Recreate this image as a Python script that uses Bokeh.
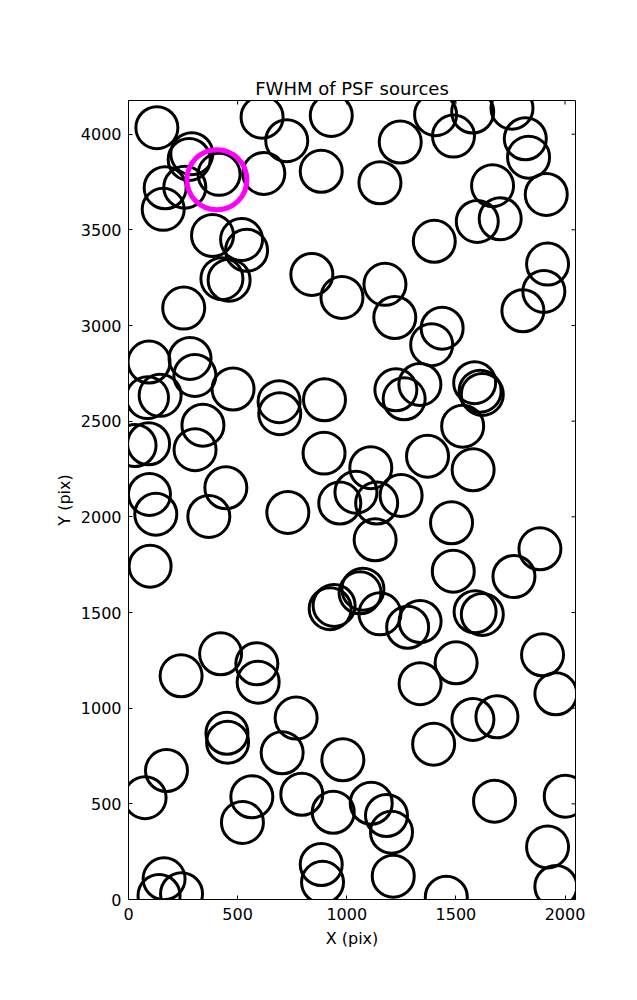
import math
from bokeh.plotting import figure
from bokeh.models import FixedTicker, Range1d
from bokeh.embed import file_html
from bokeh.resources import INLINE

# Source centres (pixel coordinates on the detector)
src_x = [130, 290, 278, 168, 258, 159, 415, 620, 612, 725, 929, 883, 385, 518, 541, 428, 461, 253, 840, 978,
         1407, 1577, 1757, 1489, 1245, 1152, 1818, 1833, 1914, 1668, 1598, 1703, 1401, 1920, 1903, 1807, 1175, 1220, 1437, 1389,
         94, 282, 304, 479, 87, 145, 690, 693, 898, 341, 305, 92, 30, 896, 446, 96, 125, 368, 730, 968, 1042, 99, 924, 942,
         1225, 1335, 1263, 1586, 1611, 1621, 1531, 1110, 1370, 1579, 1137, 1249, 1130, 1480, 1885, 1488, 1766, 1074, 1061, 1152, 1279, 1336, 1588, 1621,
         241, 422, 588, 594, 768, 451, 454, 704, 982, 174, 76, 565, 794, 522, 938, 883, 889, 163, 140, 243,
         1897, 1958, 1501, 1336, 1578, 1688, 1398, 1677, 2001, 1112, 1182, 1205, 1920, 1958, 1213, 1456]
src_y = [4034, 3898, 3868, 3720, 3723, 3607, 3790, 3795, 4089, 3966, 4098, 3806, 3471, 3449, 3393, 3245, 3237, 3091, 3267, 3147,
         4102, 4116, 4136, 3990, 3959, 3746, 3976, 3880, 3685, 3731, 3544, 3558, 3440, 3321, 3178, 3077, 3215, 3042, 2986, 2900,
         2809, 2828, 2739, 2668, 2623, 2635, 2602, 2539, 2612, 2479, 2351, 2382, 2373, 2333, 2152, 2117, 2014, 2002, 2023, 2072, 2129, 1742, 1520, 1537,
         2664, 2692, 2617, 2701, 2657, 2640, 2474, 2257, 2317, 2246, 2072, 2112, 1880, 1969, 1833, 1716, 1688, 1622, 1603, 1493, 1423, 1453, 1504, 1490,
         1169, 1284, 1232, 1136, 948, 869, 822, 767, 730, 674, 532, 537, 550, 403, 456, 183, 90, 108, 21, 30,
         1279, 1075, 1237, 1128, 941, 955, 812, 514, 540, 503, 439, 352, 275, 68, 122, 12]

# Highlighted source
hl_x = [405]
hl_y = [3762]

x_ticks = [0, 500, 1000, 1500, 2000]
y_ticks = [0, 500, 1000, 1500, 2000, 2500, 3000, 3500, 4000]
x_max = 2048
y_max = 4176

FONT = "DejaVu Sans"

p = figure(frame_width=447, frame_height=799,
           min_border_left=128, min_border_right=55, min_border_top=100, min_border_bottom=93,
           x_range=Range1d(0, x_max), y_range=Range1d(0, y_max),
           output_backend="svg", toolbar_location=None,
           title="FWHM of PSF sources")

p.title.text_font = FONT
p.title.text_font_size = "18px"
p.title.text_font_style = "normal"
p.title.text_color = "black"
p.title.align = "center"
p.title.standoff = 4

p.grid.visible = False
p.outline_line_color = "black"
p.outline_line_width = 1
p.background_fill_color = "white"
p.border_fill_color = "white"

for ax in (p.xaxis[0], p.yaxis[0]):
    ax.major_tick_in = 4
    ax.major_tick_out = 0
    ax.minor_tick_line_color = None
    ax.major_label_text_font = FONT
    ax.major_label_text_font_size = "16px"
    ax.major_label_text_color = "black"
    ax.axis_label_text_font = FONT
    ax.axis_label_text_font_size = "16px"
    ax.axis_label_text_font_style = "normal"
    ax.axis_label_text_color = "black"
    ax.axis_line_color = "black"
    ax.major_tick_line_color = "black"

p.xaxis[0].ticker = FixedTicker(ticks=x_ticks)
p.yaxis[0].ticker = FixedTicker(ticks=y_ticks)
p.xaxis[0].axis_label = "X (pix)"
p.yaxis[0].axis_label = "Y (pix)"
p.xaxis[0].major_label_standoff = 8
p.yaxis[0].major_label_standoff = 7
p.xaxis[0].axis_label_standoff = 6
p.yaxis[0].axis_label_standoff = 4

# inward ticks on the top and right edges (half-clipped dash markers)
p.scatter(x_ticks, [y_max] * len(x_ticks), marker="dash", size=8, angle=math.pi / 2,
          line_color="black", line_width=1)
p.scatter([x_max] * len(y_ticks), y_ticks, marker="dash", size=8,
          line_color="black", line_width=1)

p.scatter(src_x, src_y, marker="circle", size=42, fill_color=None,
          line_color="black", line_width=3)
p.scatter(hl_x, hl_y, marker="circle", size=60, fill_color=None,
          line_color="#ff00ff", line_width=5)

open("out.html", "w").write(file_html(p, INLINE))
